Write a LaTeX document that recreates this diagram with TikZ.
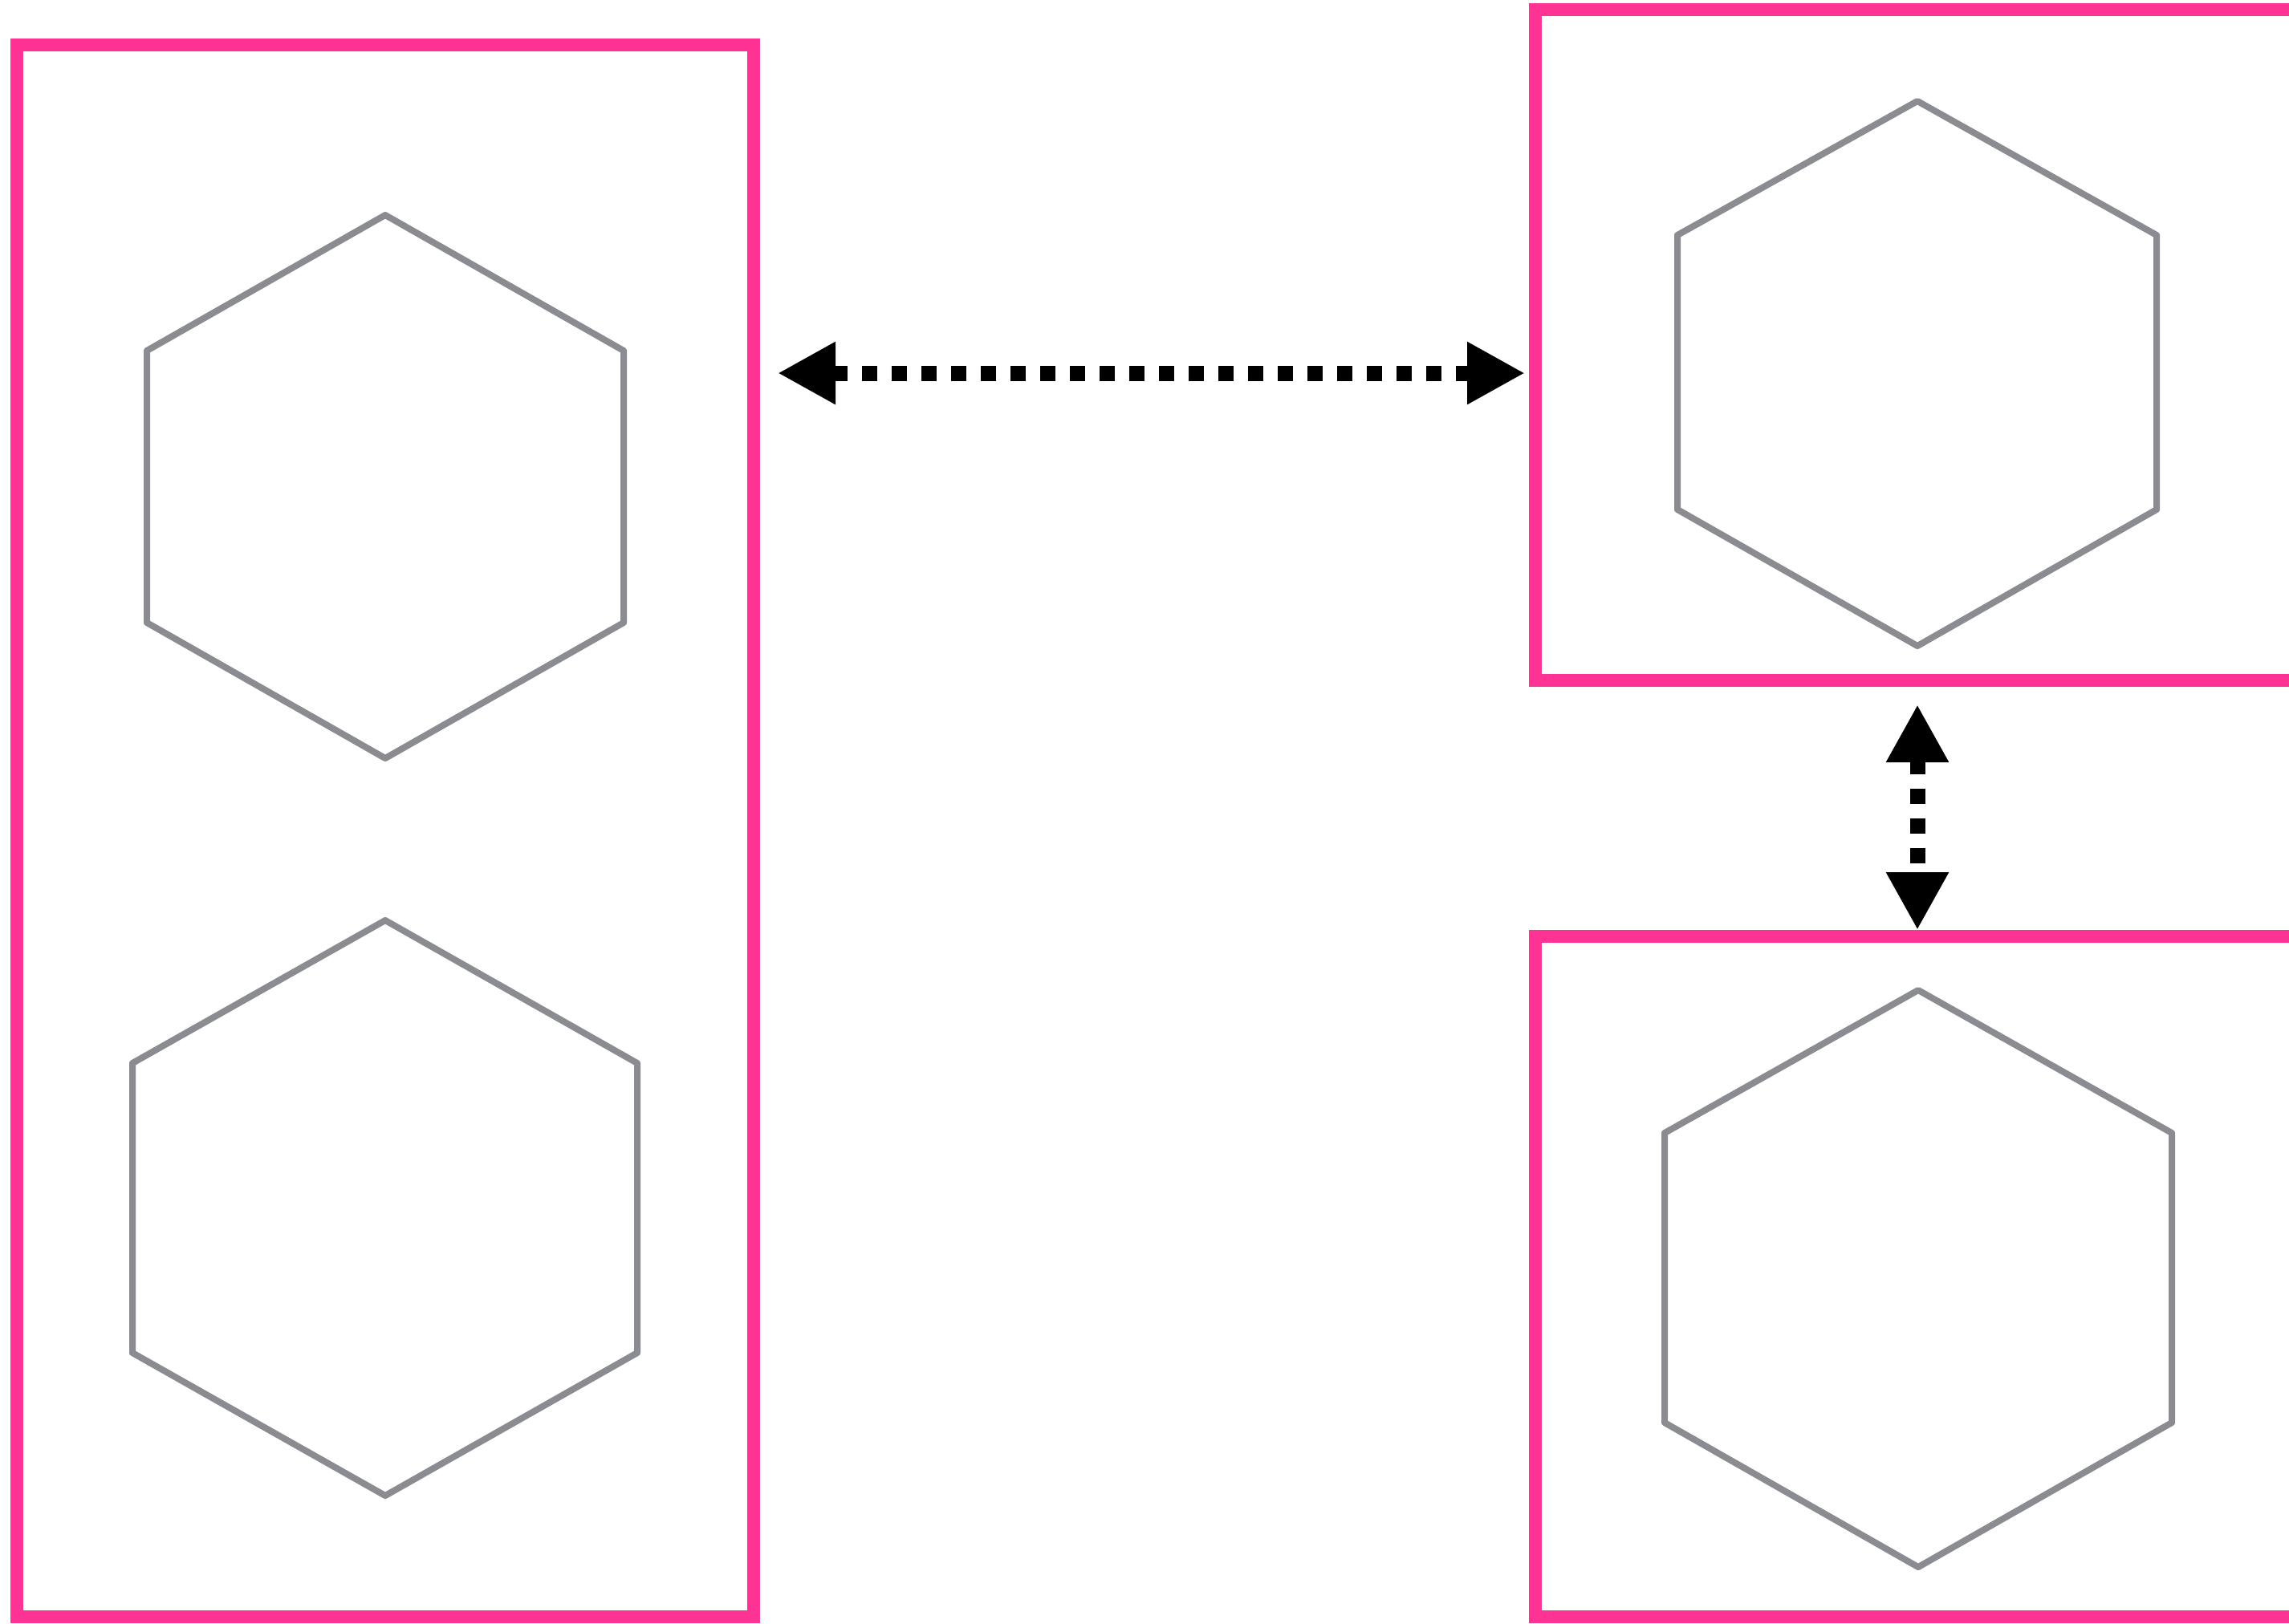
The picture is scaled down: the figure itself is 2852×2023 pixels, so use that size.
\documentclass[tikz,border=0pt]{standalone}
\usetikzlibrary{arrows.meta}
\definecolor{boxpink}{RGB}{255,51,148}
\definecolor{hexgray}{RGB}{138,140,145}
\tikzset{
  pinkbox/.style={draw=boxpink, line width=1.55mm, rectangle, inner sep=0pt, outer sep=0pt},
  hexline/.style={draw=hexgray, line width=0.8mm, line join=round},
  dotarrow/.style={line width=1.9mm, dash pattern=on 1.9mm off 1.8mm,
    {Triangle[length=7.2mm,width=7.3mm]}-{Triangle[length=7.2mm,width=7.3mm]}}
}
\begin{document}
\begin{tikzpicture}[x=0.1mm,y=-0.1mm]
\useasboundingbox (0,0) rectangle (2852,2023);
\clip (0,0) rectangle (2852,2023);
\fill[white] (0,0) rectangle (2852,2023);
% boxes
\node[pinkbox, minimum width=91.8mm, minimum height=195.9mm] (leftbox) at (480,1035.5) {};
\node[pinkbox, minimum width=108.7mm, minimum height=83.6mm] (rtbox) at (2456.5,430) {};
\node[pinkbox, minimum width=108.7mm, minimum height=84.8mm] (rbbox) at (2456.5,1591) {};
% hexagons
\draw[hexline] (480,268) -- (777,437) -- (777,776) -- (480,945) -- (183,776) -- (183,437) -- cycle;
\draw[hexline] (480,1147) -- (794,1325) -- (794,1686) -- (480,1864) -- (165,1686) -- (165,1325) -- cycle;
\draw[hexline] (2389,126) -- (2687,293) -- (2687,635) -- (2389,805) -- (2090,635) -- (2090,293) -- cycle;
\draw[hexline] (2390,1234) -- (2706,1412) -- (2706,1773) -- (2390,1953) -- (2074,1773) -- (2074,1412) -- cycle;
% arrow end points
\coordinate (hA) at (969,465);
\coordinate (hB) at (1900,465);
\coordinate (vA) at (2389,878);
\coordinate (vB) at (2389,1159);
\draw[dotarrow] (hA) -- (hB);
\draw[dotarrow] (vA) -- (vB);
\end{tikzpicture}
\end{document}
